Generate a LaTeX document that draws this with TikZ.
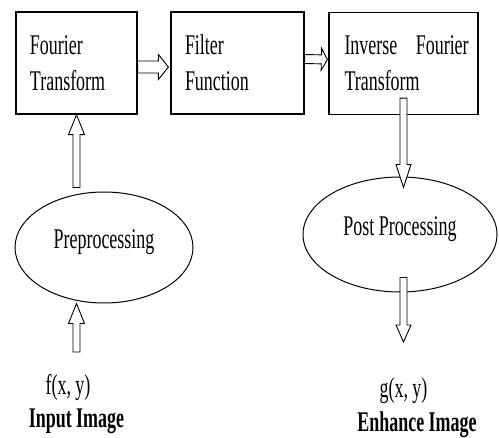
\documentclass[tikz,border=0pt]{standalone}
\usepackage{fontspec}
\setmainfont{Liberation Serif}[FakeStretch=0.63]
\usetikzlibrary{calc,shapes.geometric}
\tikzset{
	hollow/.style n args={3}{draw=black,fill=white,line width=0.9pt,
		to path={let \p1=(\tikztostart), \p2=(\tikztotarget),
			\n1={atan2(\y2-\y1,\x2-\x1)}, \n2={veclen(\x2-\x1,\y2-\y1)} in
			{[shift={(\p1)},rotate=\n1] (0pt,#1) -- (\n2-#3,#1) -- (\n2-#3,#2) -- (\n2+0pt,0pt)
			-- (\n2-#3,-#2) -- (\n2-#3,-#1) -- (0pt,-#1) -- cycle}}},
	stage/.style={draw=black,line width=1.2pt,minimum height=102pt,align=left},
	oval/.style={draw=black,ellipse,line width=1pt,text depth=16pt},
}
\begin{document}
\begin{tikzpicture}[x=1pt,y=-1pt,font=\fontsize{28.5}{36}\selectfont]
	\useasboundingbox (0,0) rectangle (499,438);
	\node[stage,minimum width=121pt,text width=93pt,inner xsep=14pt] (ft) at (76.5,63) {Fourier\\Transform};
	\node[stage,minimum width=133pt,text width=105pt,inner xsep=14pt] (ff) at (237.5,63) {Filter\\Function};
	\node[stage,minimum width=149pt,text width=122pt,inner xsep=13.5pt] (ift) at (403.5,63.5) {\hspace*{2pt}\mbox{Inverse\hspace{9pt} Fourier}\\\hspace*{2pt}Transform};
	\node[oval,minimum width=178pt,minimum height=111pt] (pre) at (104,247.5) {Preprocessing};
	\node[oval,minimum width=194pt,minimum height=115pt] (post) at (400,234.5) {Post Processing};
	\node[anchor=base] (fxy) at (68,395) {f(x, y)};
	\node[anchor=base] (inimg) at (76.5,428) {\textbf{Input Image}};
	\node[anchor=base] (gxy) at (403.5,398) {g(x, y)};
	\node[anchor=base] (enimg) at (417,432) {\textbf{Enhance Image}};
	\coordinate (src) at (76.5,352);
	\coordinate (dst) at (403.5,342);
	\draw[hollow={6pt}{12.5pt}{10pt}] ([yshift=-4pt]ft.east) to ([yshift=-4pt,xshift=-2pt]ff.west);
	\draw[hollow={4.5pt}{11pt}{6pt}] ([yshift=4pt]ff.east) to ([yshift=4pt,xshift=-1pt]ift.west);
	\draw[hollow={3.5pt}{8pt}{20pt}] ($(ft.south |- pre.north)+(0,-4)$) to (ft.south);
	\draw[hollow={3.5pt}{8pt}{20pt}] (src) to (src |- pre.south);
	\draw[hollow={3.5pt}{7.5pt}{23pt}] ($(ift.south)+(0,-17)$) to ($(ift.south |- post.north)+(0,11)$);
	\draw[hollow={3.5pt}{7.5pt}{17pt}] ($(dst |- post.south)+(0,-15)$) to (dst);
\end{tikzpicture}
\end{document}
